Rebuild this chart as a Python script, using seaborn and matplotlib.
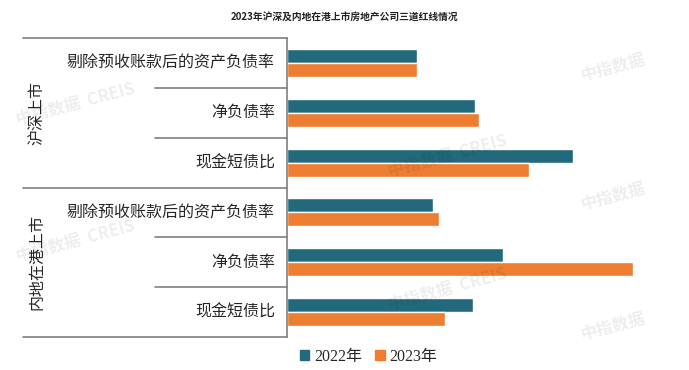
import numpy as np
import pandas as pd
import matplotlib
matplotlib.use("Agg")
import matplotlib.pyplot as plt
import matplotlib.transforms as mtransforms
import seaborn as sns

sns.set_theme(style="white")
plt.rcParams['font.family'] = ['Noto Sans CJK SC', 'DejaVu Sans']

# data (axis has no ticks, values in %)
groups = ['沪深上市', '内地在港上市']
metrics = ['剔除预收账款后的资产负债率', '净负债率', '现金短债比']
years = ['2022年', '2023年']
hs_2022 = [65, 94, 143]
hs_2023 = [65, 96, 121]
nd_2022 = [73, 108, 93]
nd_2023 = [76, 173, 79]
colors = ['#226a7b', '#ed7d31']

rows = []
for g, v22, v23 in [(groups[0], hs_2022, hs_2023), (groups[1], nd_2022, nd_2023)]:
    for m, a, b in zip(metrics, v22, v23):
        rows.append({'key': g + '|' + m, 'metric': m, 'year': years[0], 'value': a})
        rows.append({'key': g + '|' + m, 'metric': m, 'year': years[1], 'value': b})
df = pd.DataFrame(rows)

fig = plt.figure(figsize=(6.89, 3.70), dpi=100)
ax = fig.add_axes([287/689, 1-337/370, 360/689, 299/370])

sns.barplot(data=df, y='key', x='value', hue='year', orient='h',
            palette=colors, width=0.56, saturation=1, ax=ax, legend=False)
ax.set_xlim(0, 180)
ax.set_ylim(5.5, -0.5)
ax.set_xlabel('')
ax.set_ylabel('')
ax.set_xticks([])
ax.set_yticks([])
for s in ['top', 'right', 'bottom']:
    ax.spines[s].set_visible(False)
ax.spines['left'].set_color('#7f7f7f')
ax.spines['left'].set_linewidth(1.2)

trans = mtransforms.blended_transform_factory(ax.transAxes, ax.transData)
line_kw = dict(color='#7f7f7f', lw=1.2, transform=trans, clip_on=False)
x_far = (23 - 287) / 360
x_mid = (155 - 287) / 360
for y in [-0.5, 2.5, 5.5]:
    ax.plot([x_far, 0], [y, y], **line_kw)
for y in [0.5, 1.5, 3.5, 4.5]:
    ax.plot([x_mid, 0], [y, y], **line_kw)

# category labels
keys = df['key'].unique()
for i, k in enumerate(keys):
    ax.text(-12/360, i, k.split('|')[1], transform=trans, ha='right', va='center',
            fontsize=11.5, color='#262626')
# group labels
for i, g in enumerate(groups):
    ax.text((37 - 287)/360, 1 + 3*i, g, transform=trans, ha='center', va='center',
            rotation=90, fontsize=11.5, color='#262626')

fig.text(0.5, 1-17/370, '2023年沪深及内地在港上市房地产公司三道红线情况',
         ha='center', va='center', fontsize=7, fontweight='bold', color='#222222')

# watermarks
wm_full = [(0.11, 0.72), (0.65, 0.58), (0.11, 0.35), (0.65, 0.22)]
wm_short = [(0.89, 0.82), (0.89, 0.47), (0.89, 0.12)]
for x, y in wm_full:
    fig.text(x, y, '中指数据  CREIS', ha='center', va='center', fontsize=12,
             fontweight='bold', color='#000000', alpha=0.07, rotation=15)
for x, y in wm_short:
    fig.text(x, y, '中指数据', ha='center', va='center', fontsize=12,
             fontweight='bold', color='#000000', alpha=0.07, rotation=15)

handles = [plt.Rectangle((0, 0), 1, 1, color=c) for c in colors]
fig.legend(handles, years, loc='center', bbox_to_anchor=(0.535, 1-357/370), ncol=2,
           frameon=False, handlelength=0.6, handleheight=0.6, handletextpad=0.3,
           columnspacing=0.8, prop={'family': ['Liberation Serif', 'Noto Sans CJK SC'], 'size': 11.5})

fig.savefig('out.png', dpi=100, facecolor='white')
